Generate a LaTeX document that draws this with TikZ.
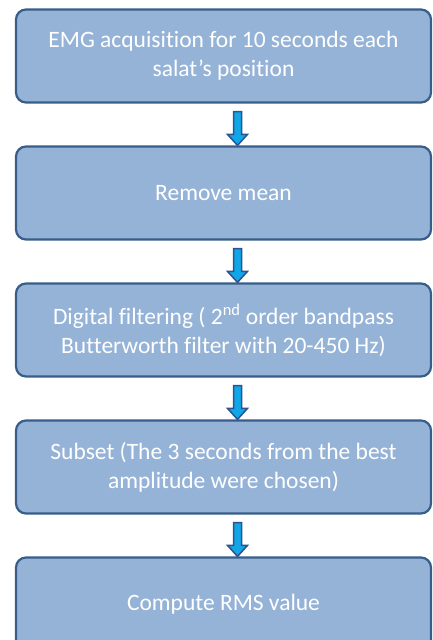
\documentclass[tikz,border=0pt]{standalone}
\usepackage{fontspec}
\setmainfont{Carlito}[Ligatures=NoCommon]
\usetikzlibrary{positioning,calc}
\definecolor{boxfill}{HTML}{95B3D7}
\definecolor{boxline}{HTML}{385D8A}
\definecolor{arrfill}{HTML}{10A6E8}
\definecolor{arrline}{HTML}{2F528F}

% block arrow between two boxes, a bit right of their centres
\newcommand{\blockarrow}[2]{%
  \filldraw[fatarr] let \p1=($(#1.south)+(14,-8)$), \p2=($(#2.north)+(14,0)$) in
    (\x1-4pt,\y1) -- (\x1+4pt,\y1) -- (\x1+4pt,\y2+11pt) -- (\x1+10pt,\y2+11pt)
    -- (\x1,\y2) -- (\x1-10pt,\y2+11pt) -- (\x1-4pt,\y2+11pt) -- cycle;}

\begin{document}
\begin{tikzpicture}[x=1pt,y=1pt,
  node distance=41.8pt,
  box/.style={draw=boxline,line width=2.2pt,rounded corners=10pt,fill=boxfill,
              text=white,align=center,inner sep=0pt,
              minimum width=415pt,minimum height=93pt,
              font=\fontsize{23.5}{29}\selectfont},
  fatarr/.style={draw=arrline,fill=arrfill,line width=1.5pt}
]
\useasboundingbox (0,0) rectangle (433,-640);
\node[box] (acq) at (223.5,-56) {EMG acquisition for 10 seconds each\\salat’s position};
\node[box,below=of acq] (mean) {Remove mean};
\node[box,below=of mean] (filt) {Digital filtering ( 2\textsuperscript{nd} order bandpass\\Butterworth filter with 20-450 Hz)};
\node[box,below=of filt] (sub) {Subset (The 3 seconds from the best\\amplitude were chosen)};
\node[box,below=of sub] (rms) {Compute RMS value};
\blockarrow{acq}{mean}
\blockarrow{mean}{filt}
\blockarrow{filt}{sub}
\blockarrow{sub}{rms}
\end{tikzpicture}
\end{document}
